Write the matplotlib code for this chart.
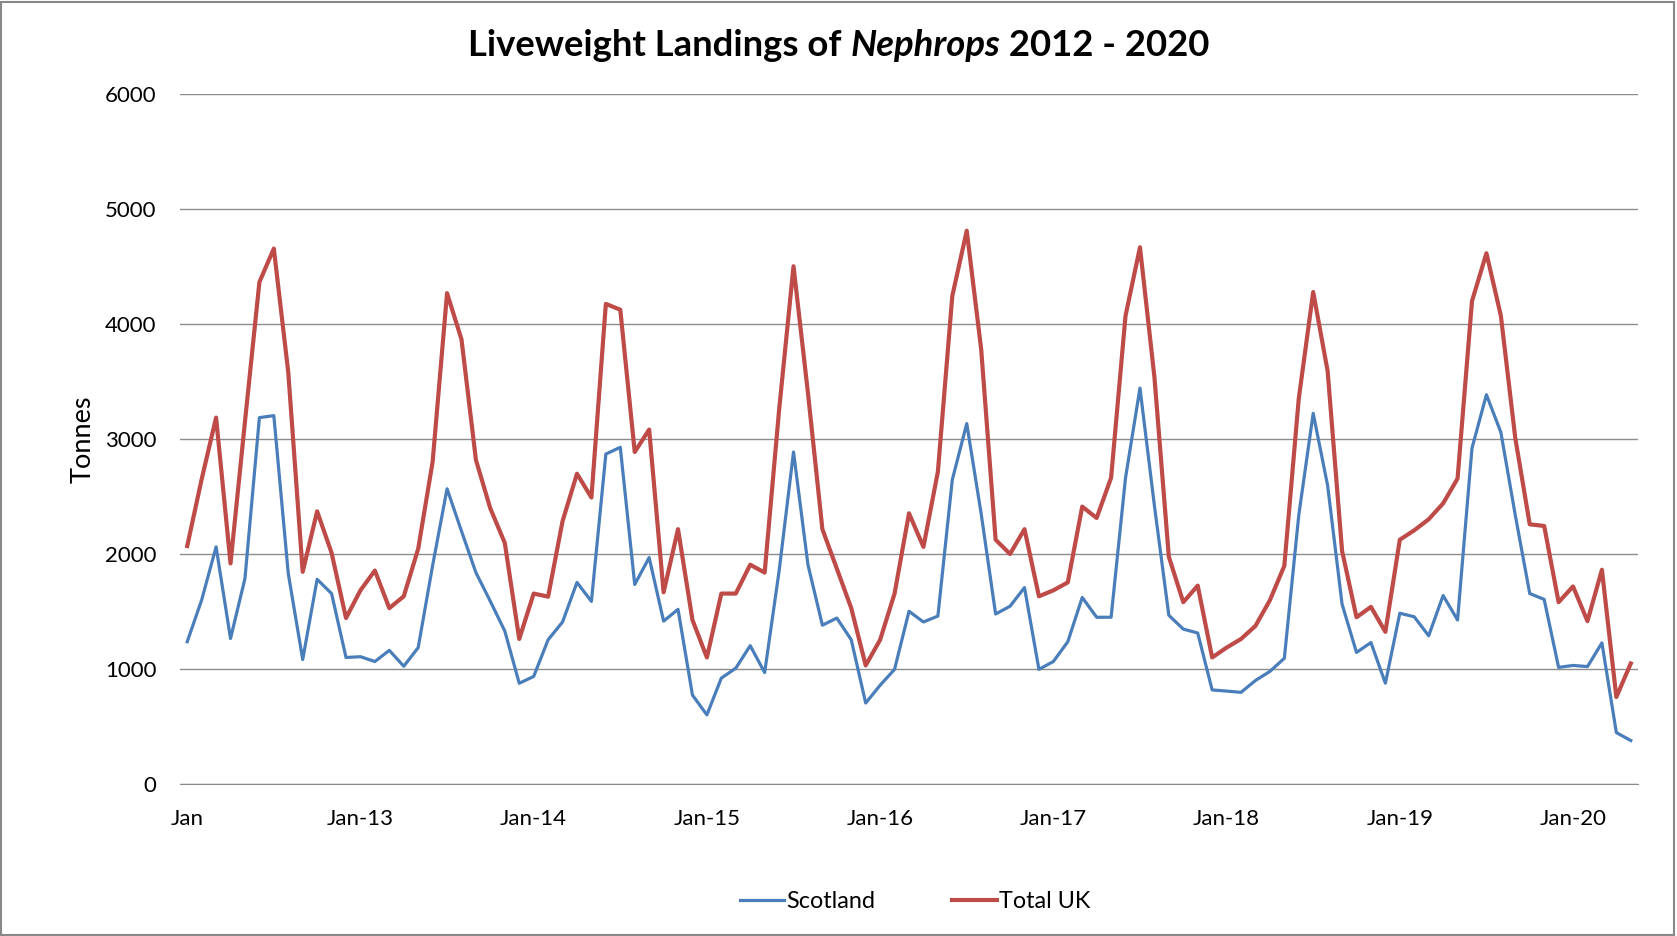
import numpy as np
import matplotlib
matplotlib.use("Agg")
import matplotlib.pyplot as plt
from matplotlib.patches import Rectangle

# monthly liveweight landings (tonnes), Jan 2012 - May 2020
scotland = [1237, 1600, 2062, 1265, 1787, 3186, 3203, 1830, 1082, 1780, 1656, 1100,
            1107, 1065, 1162, 1024, 1186, 1900, 2567, 2199, 1838, 1588, 1330, 876,
            935, 1254, 1409, 1753, 1588, 2869, 2928, 1735, 1969, 1416, 1519, 773,
            601, 921, 1007, 1203, 969, 1850, 2887, 1907, 1381, 1443, 1254, 704,
            859, 997, 1502, 1409, 1460, 2646, 3134, 2350, 1478, 1546, 1708, 997,
            1065, 1237, 1622, 1450, 1450, 2663, 3443, 2420, 1467, 1347, 1313, 818,
            808, 797, 900, 979, 1093, 2337, 3223, 2595, 1564, 1144, 1230, 876,
            1485, 1454, 1289, 1639, 1426, 2921, 3385, 3058, 2337, 1656, 1605, 1014,
            1031, 1021, 1227, 447, 378]
total_uk = [2069, 2650, 3186, 1918, 3150, 4364, 4656, 3580, 1845, 2371, 2010, 1443,
            1684, 1856, 1529, 1632, 2045, 2801, 4268, 3866, 2818, 2395, 2096, 1261,
            1656, 1629, 2285, 2698, 2491, 4175, 4124, 2887, 3082, 1667, 2216, 1426,
            1100, 1656, 1656, 1907, 1838, 3250, 4502, 3400, 2216, 1873, 1529, 1031,
            1254, 1656, 2354, 2062, 2715, 4244, 4811, 3780, 2124, 2000, 2216, 1632,
            1684, 1753, 2412, 2313, 2663, 4072, 4667, 3540, 1976, 1581, 1725, 1100,
            1186, 1261, 1375, 1598, 1897, 3351, 4278, 3591, 2027, 1450, 1540, 1323,
            2124, 2206, 2302, 2440, 2656, 4199, 4615, 4072, 3007, 2258, 2244, 1581,
            1718, 1416, 1863, 756, 1048]
tick_labels = ["Jan", "Jan-13", "Jan-14", "Jan-15", "Jan-16", "Jan-17", "Jan-18", "Jan-19", "Jan-20"]

plt.rcParams['font.family'] = ['Lato', 'DejaVu Sans']

W, H = 1677, 936
fig = plt.figure(figsize=(W / 100, H / 100), dpi=100)
ax = fig.add_axes([180 / W, 1 - 784 / H, (1638 - 180) / W, (784 - 94) / H])

x = np.arange(len(scotland))
ax.plot(x, scotland, color='#4A7EBB', lw=2.3, label='Scotland', solid_joinstyle='round')
ax.plot(x, total_uk, color='#BE4B48', lw=3.0, label='Total UK', solid_joinstyle='round')

ax.set_xlim(-0.5, len(scotland) - 0.5)
ax.set_ylim(0, 6000)
ax.set_yticks(np.arange(0, 6001, 1000))
ax.set_xticks(np.arange(0, len(scotland), 12))
ax.set_xticklabels(tick_labels)
ax.tick_params(axis='both', length=0, labelsize=16)
ax.tick_params(axis='x', pad=18)
ax.tick_params(axis='y', pad=17)
ax.grid(axis='y', color='#8c8c8c', lw=1)
ax.set_axisbelow(True)
for s in ['top', 'right', 'left']:
    ax.spines[s].set_visible(False)
ax.spines['bottom'].set_color('#8c8c8c')

fig.text(83 / W, 1 - 439 / H, 'Tonnes', rotation=90, ha='center', va='center', fontsize=19.5)

# title in three pieces so Nephrops can be bold italic
pieces = [("Liveweight Landings of ", 'normal'), ("Nephrops", 'italic'), (" 2012 - 2020", 'normal')]
renderer = fig.canvas.get_renderer()
texts = []
for s, style in pieces:
    t = fig.text(0, 1 - 45 / H, s, fontsize=26.3, fontweight='bold', style=style, va='center', ha='left')
    texts.append(t)
widths = [t.get_window_extent(renderer).width for t in texts]
xpos = W / 2 - sum(widths) / 2
for t, w in zip(texts, widths):
    t.set_x(xpos / W)
    xpos += w

fig.legend(loc='center', bbox_to_anchor=(915 / W, 1 - 902 / H), ncol=2, frameon=False,
           fontsize=16.8, handlelength=1.9, handletextpad=0.1, columnspacing=3.3)

fig.add_artist(Rectangle((0.0005, 0.001), 0.998, 0.997, transform=fig.transFigure,
                         fill=False, edgecolor='#888888', lw=1.5))

fig.savefig('out.png', dpi=100)
